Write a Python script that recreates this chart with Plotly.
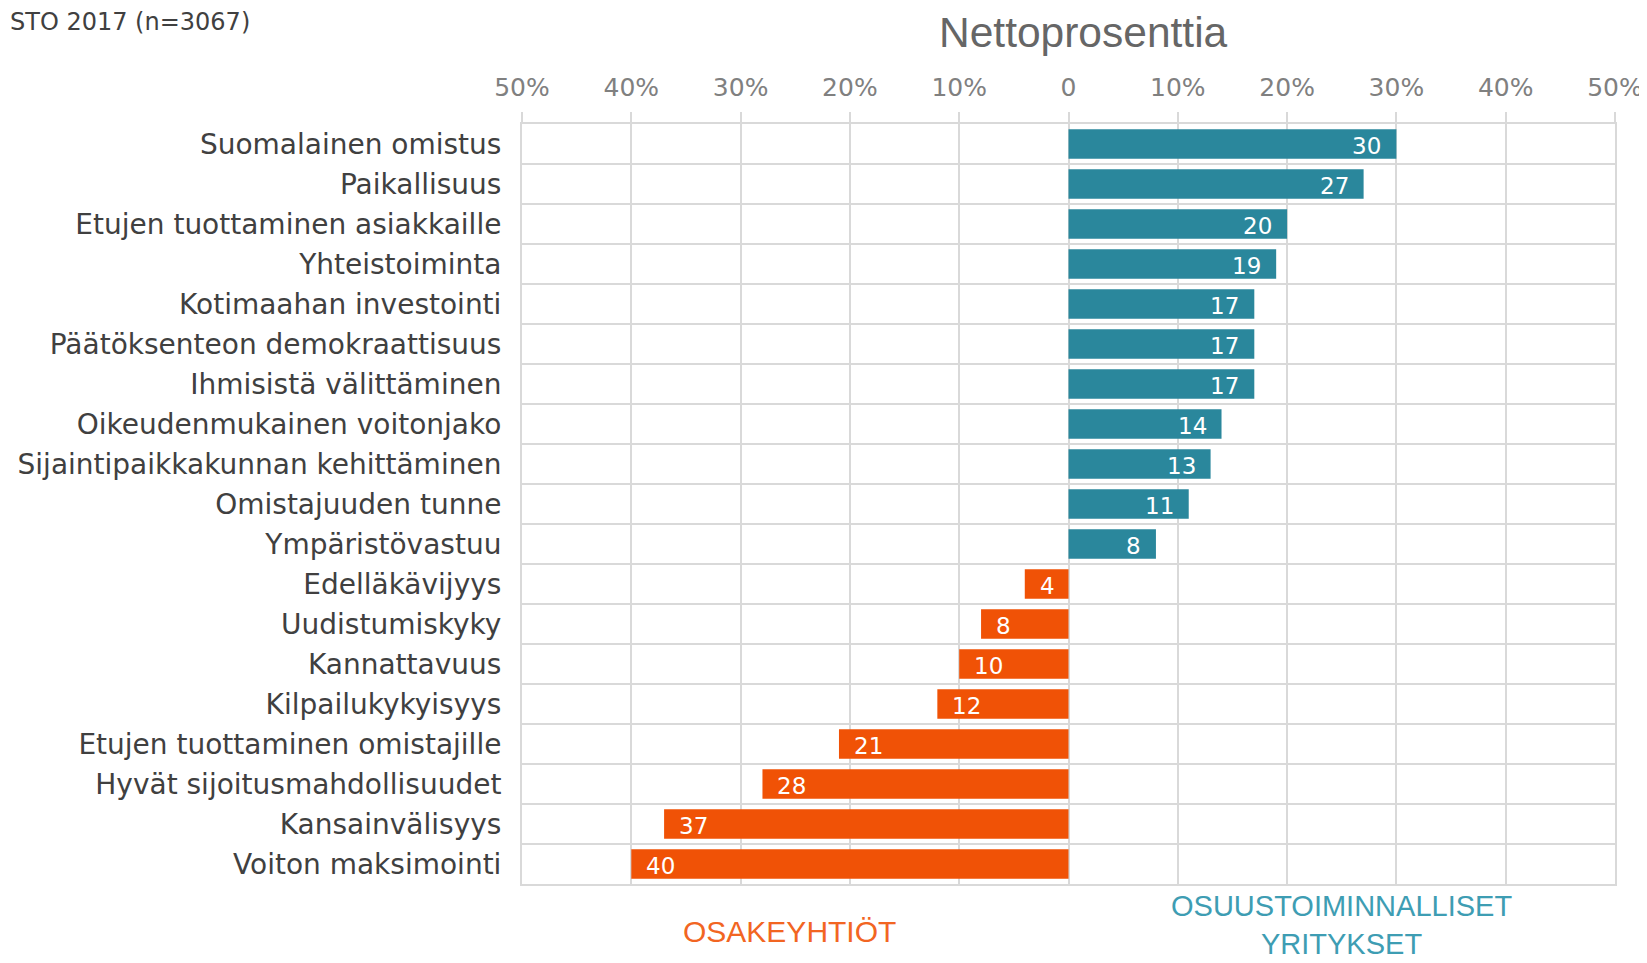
import plotly.graph_objects as go

# ---- data ----
coop_categories = [
    "Suomalainen omistus", "Paikallisuus", "Etujen tuottaminen asiakkaille",
    "Yhteistoiminta", "Kotimaahan investointi", "Päätöksenteon demokraattisuus",
    "Ihmisistä välittäminen", "Oikeudenmukainen voitonjako",
    "Sijaintipaikkakunnan kehittäminen", "Omistajuuden tunne", "Ympäristövastuu",
]
coop_values = [30, 27, 20, 19, 17, 17, 17, 14, 13, 11, 8]

oy_categories = [
    "Edelläkävijyys", "Uudistumiskyky", "Kannattavuus", "Kilpailukykyisyys",
    "Etujen tuottaminen omistajille", "Hyvät sijoitusmahdollisuudet",
    "Kansainvälisyys", "Voiton maksimointi",
]
oy_values = [-4, -8, -10, -12, -21, -28, -37, -40]

tick_values = [-50, -40, -30, -20, -10, 0, 10, 20, 30, 40, 50]
tick_labels = ["50%", "40%", "30%", "20%", "10%", "0", "10%", "20%", "30%", "40%", "50%"]

title_text = "Nettoprosenttia"
note_text = "STO 2017 (n=3067)"
left_group = "OSAKEYHTIÖT"
right_group = "OSUUSTOIMINNALLISET<br>YRITYKSET"

# ---- styles ----
TEAL = "#2A879C"
ORANGE = "#F05206"
GRID = "#D9D9D9"
LABEL_FONT = "DejaVu Sans, Verdana, sans-serif"
ARIAL = "Liberation Sans, Arial, sans-serif"

all_categories = coop_categories + oy_categories

fig = go.Figure()
fig.add_trace(go.Bar(
    y=coop_categories, x=coop_values, orientation="h",
    marker=dict(color=TEAL, line=dict(width=0)), hoverinfo="x+y", showlegend=False,
))
fig.add_trace(go.Bar(
    y=oy_categories, x=oy_values, orientation="h",
    marker=dict(color=ORANGE, line=dict(width=0)), hoverinfo="x+y", showlegend=False,
))

annotations = []
for c, v in zip(coop_categories + oy_categories, coop_values + oy_values):
    annotations.append(dict(
        x=v, y=c, xref="x", yref="y", text=str(abs(v)), showarrow=False,
        xanchor="right" if v > 0 else "left", xshift=-13 if v > 0 else 13,
        yshift=-2,
        font=dict(family=LABEL_FONT, size=23, color="white"),
    ))

annotations += [
    dict(x=0.514, y=1.121, xref="paper", yref="paper", text=title_text, showarrow=False,
         xanchor="center", yanchor="middle",
         font=dict(family=ARIAL, size=42.5, color="#666666")),
    dict(x=0, y=1.134, xref="paper", yref="paper", text=note_text, showarrow=False,
         xanchor="left", yanchor="middle", xshift=-514,
         font=dict(family=LABEL_FONT, size=24, color="#404040")),
    dict(x=0.245, y=-0.063, xref="paper", yref="paper", text=left_group, showarrow=False,
         xanchor="center", yanchor="middle",
         font=dict(family=ARIAL, size=30, color="#F26522")),
    dict(x=0.750, y=-0.054, xref="paper", yref="paper", text=right_group, showarrow=False,
         xanchor="center", yanchor="middle",
         font=dict(family=ARIAL, size=29, color="#3E9DB3")),
]

# page body has an 8px margin: size the figure so it fits the 1647x963 window
fig.update_layout(
    width=1639, height=955,
    margin=dict(l=514, r=32, t=116, b=79, pad=0, autoexpand=False),
    paper_bgcolor="white", plot_bgcolor="white",
    barmode="overlay", bargap=0.26,
    annotations=annotations,
    xaxis=dict(
        range=[-50, 50], side="top", tickmode="array",
        tickvals=tick_values, ticktext=tick_labels,
        showgrid=True, gridcolor=GRID, gridwidth=2,
        zeroline=False, automargin=False,
        showline=True, linecolor=GRID, linewidth=2, mirror=True,
        ticks="outside", ticklen=10, tickwidth=2, tickcolor=GRID,
        ticklabelstandoff=6,
        tickfont=dict(family=LABEL_FONT, size=25, color="#808080"),
        fixedrange=True,
    ),
    yaxis=dict(
        categoryorder="array", categoryarray=all_categories,
        autorange="reversed", automargin=False,
        tickson="boundaries", showgrid=True, gridcolor=GRID, gridwidth=2,
        showline=True, linecolor=GRID, linewidth=2, mirror=True,
        ticks="", ticklabelstandoff=13,
        tickfont=dict(family=LABEL_FONT, size=28, color="#404040"),
        fixedrange=True,
    ),
)

fig.write_html("out.html")
